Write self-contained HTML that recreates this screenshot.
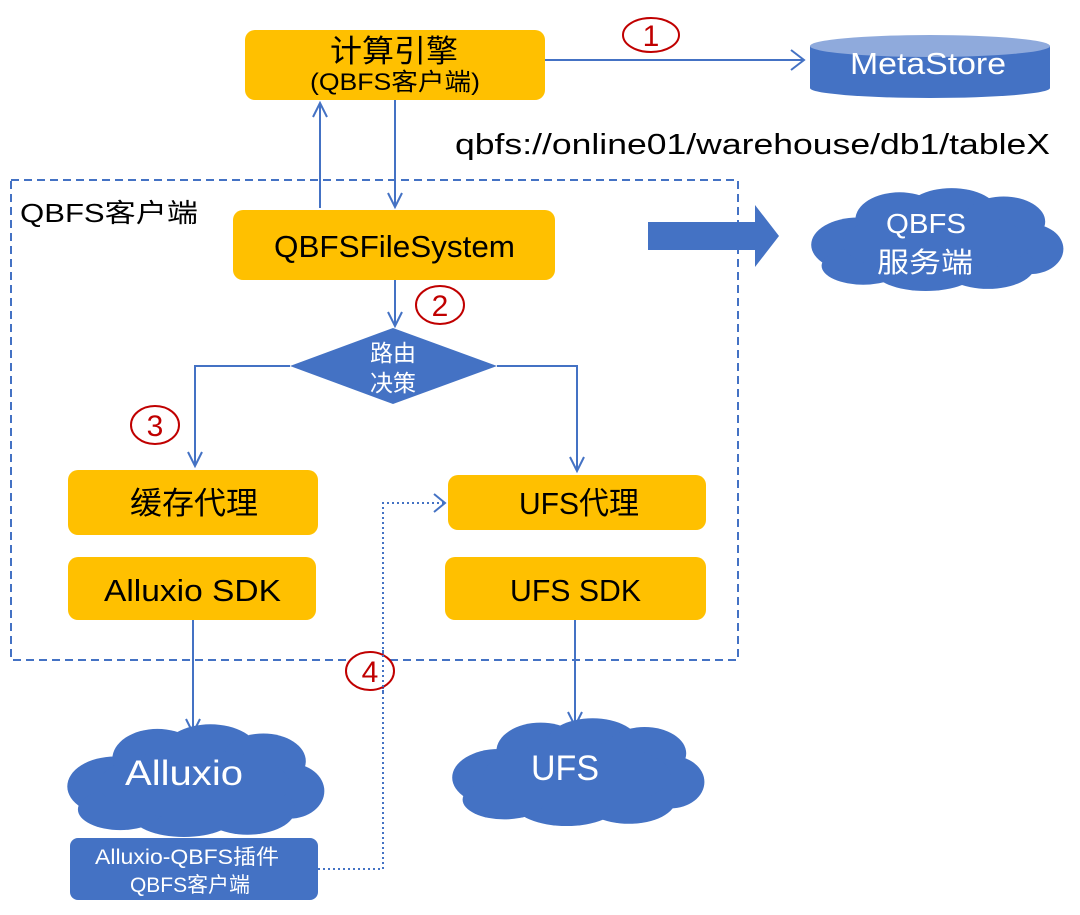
<!DOCTYPE html>
<html><head><meta charset="utf-8"><style>
html,body{margin:0;padding:0;background:#fff;}
svg{display:block;font-family:"Liberation Sans","Noto Sans CJK SC",sans-serif;}
</style></head><body>
<svg width="1080" height="915" viewBox="0 0 1080 915" xmlns="http://www.w3.org/2000/svg">
<defs>
<g id="cloud" fill="#4472C4">
<ellipse cx="20" cy="28" rx="18" ry="13"/>
<ellipse cx="36" cy="16" rx="17" ry="13"/>
<ellipse cx="56" cy="13" rx="18" ry="12"/>
<ellipse cx="76" cy="17" rx="16" ry="12"/>
<ellipse cx="86" cy="30" rx="13" ry="12"/>
<ellipse cx="70" cy="38" rx="18" ry="11"/>
<ellipse cx="46" cy="40" rx="20" ry="10"/>
<ellipse cx="22" cy="38" rx="16" ry="9"/>
<ellipse cx="50" cy="27" rx="36" ry="15"/>
</g>
</defs>
<!-- clouds -->
<use href="#cloud" transform="translate(806,186) scale(2.6,2.1)"/>
<use href="#cloud" transform="translate(62,722) scale(2.65,2.3)"/>
<use href="#cloud" transform="translate(447,716) scale(2.6,2.2)"/>
<g fill="none" stroke="#4472C4" stroke-width="2">
<rect x="11" y="180" width="727" height="480" stroke-dasharray="8,5"/>
<line x1="545" y1="60" x2="803" y2="60"/>
<polyline points="791,50 804,60 791,70"/>
<line x1="320" y1="208" x2="320" y2="103"/>
<polyline points="313,117 320,103 327,117"/>
<line x1="395" y1="100" x2="395" y2="207"/>
<polyline points="388,193 395,207 402,193"/>
<line x1="395" y1="280" x2="395" y2="326"/>
<polyline points="388,312 395,326 402,312"/>
<polyline points="290,366 195,366 195,466"/>
<polyline points="188,452 195,466 202,452"/>
<polyline points="497,366 577,366 577,471"/>
<polyline points="570,457 577,471 584,457"/>
<line x1="193" y1="620" x2="193" y2="733"/>
<polyline points="186,719 193,733 200,719"/>
<line x1="575" y1="620" x2="575" y2="726"/>
<polyline points="568,712 575,726 582,712"/>
<polyline points="318,869 383,869 383,503 444,503" stroke-dasharray="2,3"/>
<polyline points="434,494 445,503 434,512"/>
</g>
<polygon points="648,222 755,222 755,205 779,236 755,267 755,250 648,250" fill="#4472C4"/>
<g fill="#FFC000">
<rect x="245" y="30" width="300" height="70" rx="10"/>
<rect x="233" y="210" width="322" height="70" rx="10"/>
<rect x="68" y="470" width="250" height="65" rx="10"/>
<rect x="68" y="557" width="248" height="63" rx="10"/>
<rect x="448" y="475" width="258" height="55" rx="10"/>
<rect x="445" y="557" width="261" height="63" rx="10"/>
</g>
<path d="M810,46 L810,88 A120,10 0 0 0 1050,88 L1050,46 Z" fill="#4472C4"/>
<ellipse cx="930" cy="46" rx="120" ry="11" fill="#8FAADC"/>
<polygon points="393,328 497,366 393,404 290,366" fill="#4472C4"/>
<rect x="70" y="838" width="248" height="62" rx="8" fill="#4472C4"/>
<g fill="#fff" stroke="#C00000" stroke-width="2">
<ellipse cx="651" cy="35" rx="28" ry="17"/>
<ellipse cx="440" cy="305" rx="24" ry="19"/>
<ellipse cx="155" cy="425" rx="24" ry="19"/>
<ellipse cx="370" cy="671" rx="24" ry="19"/>
</g>
<g fill="#C00000" font-size="30" text-anchor="middle">
<text x="651" y="46">1</text>
<text x="440" y="316">2</text>
<text x="155" y="436">3</text>
<text x="370" y="682">4</text>
</g>
<line x1="383" y1="650" x2="383" y2="692" stroke="#4472C4" stroke-width="2" stroke-dasharray="2,3"/>
<g fill="#000">
<text x="330" y="62" font-size="31" textLength="128" lengthAdjust="spacingAndGlyphs">计算引擎</text>
<text x="310" y="90" font-size="24" textLength="170" lengthAdjust="spacingAndGlyphs">(QBFS客户端)</text>
<text x="274" y="257" font-size="31" textLength="241" lengthAdjust="spacingAndGlyphs">QBFSFileSystem</text>
<text x="130" y="514" font-size="31" textLength="128" lengthAdjust="spacingAndGlyphs">缓存代理</text>
<text x="104" y="601" font-size="31" textLength="177" lengthAdjust="spacingAndGlyphs">Alluxio SDK</text>
<text x="519" y="514" font-size="31" textLength="120" lengthAdjust="spacingAndGlyphs">UFS代理</text>
<text x="510" y="601" font-size="31" textLength="131" lengthAdjust="spacingAndGlyphs">UFS SDK</text>
<text x="20" y="222" font-size="26" textLength="178" lengthAdjust="spacingAndGlyphs">QBFS客户端</text>
<text x="455" y="154" font-size="29" textLength="595" lengthAdjust="spacingAndGlyphs">qbfs://online01/warehouse/db1/tableX</text>
</g>
<g fill="#fff">
<text x="850" y="74" font-size="31" textLength="156" lengthAdjust="spacingAndGlyphs">MetaStore</text>
<text x="370" y="361" font-size="23" textLength="46" lengthAdjust="spacingAndGlyphs">路由</text>
<text x="370" y="391" font-size="23" textLength="46" lengthAdjust="spacingAndGlyphs">决策</text>
<text x="886" y="233" font-size="28" textLength="80" lengthAdjust="spacingAndGlyphs">QBFS</text>
<text x="877" y="272" font-size="28" textLength="96" lengthAdjust="spacingAndGlyphs">服务端</text>
<text x="125" y="785" font-size="35" textLength="118" lengthAdjust="spacingAndGlyphs">Alluxio</text>
<text x="531" y="780" font-size="35" textLength="68" lengthAdjust="spacingAndGlyphs">UFS</text>
<text x="95" y="864" font-size="21" textLength="184" lengthAdjust="spacingAndGlyphs">Alluxio-QBFS插件</text>
<text x="130" y="892" font-size="21" textLength="120" lengthAdjust="spacingAndGlyphs">QBFS客户端</text>
</g>
</svg>
</body></html>
